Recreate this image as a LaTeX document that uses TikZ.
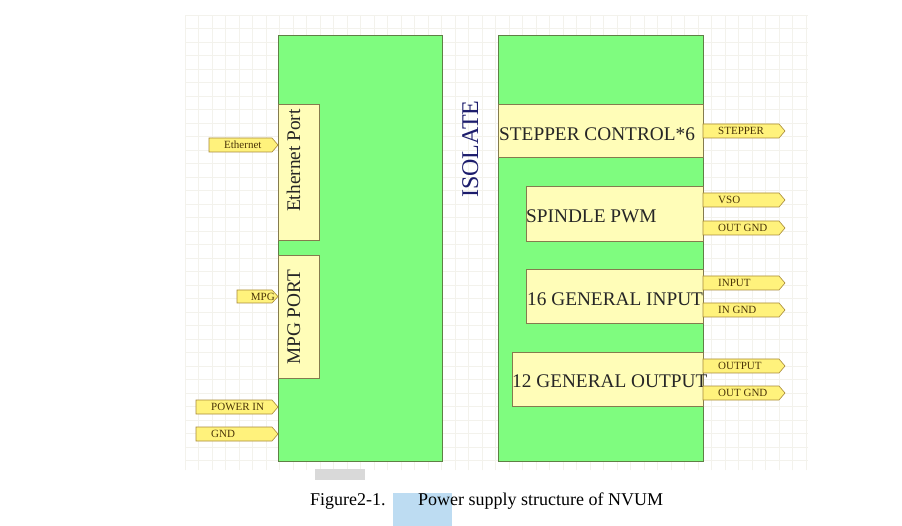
\documentclass[tikz,border=0pt]{standalone}
\usepackage{fontspec}
\setmainfont{Liberation Serif}
\definecolor{gfill}{HTML}{7FFC7F}
\definecolor{gline}{HTML}{5F7F45}
\definecolor{yfill}{HTML}{FFFDB8}
\definecolor{yline}{HTML}{857B4E}
\definecolor{tfill}{HTML}{FFF27C}
\definecolor{tline}{HTML}{A88A38}
\definecolor{ttext}{HTML}{4A3408}
\definecolor{navy}{HTML}{1C1C6C}
\definecolor{gridc}{HTML}{F3F2EC}
\definecolor{grayr}{HTML}{D9D9D9}
\definecolor{bluer}{HTML}{BDDCF2}
\tikzset{
  greenblk/.style={draw=gline, fill=gfill, line width=0.8pt},
  yellowblk/.style={draw=yline, fill=yfill, line width=0.8pt},
  tagshape/.style={draw=tline, fill=tfill, line width=0.6pt},
  tagtext/.style={inner sep=0pt, text=ttext, font=\fontsize{11}{11}\selectfont},
  bigtext/.style={inner sep=0pt, text=black!85, font=\fontsize{19.3}{19.3}\selectfont},
}
\newcommand\tagbox[5]{%
  \draw[tagshape] (#1,#3-7) -- (#2-6,#3-7) -- (#2,#3) -- (#2-6,#3+7) -- (#1,#3+7) -- cycle;
  \node[tagtext, anchor=base west] (#5) at (#1+15,#3+3.7) {#4};
}
\begin{document}
\begin{tikzpicture}[x=1pt,y=-1pt]
\useasboundingbox[fill=white] (0,0) rectangle (902,526);
% background grid
\draw[gridc, line width=0.5pt, step=13.5pt, shift={(185pt,-15pt)}] (0,0) grid (623,455);
% left block
\draw[greenblk] (278,35) rectangle (442,461);
\draw[yellowblk] (278,104) rectangle (319,240);
\node[bigtext, rotate=90, anchor=base west] (eport) at (300,212) {Ethernet Port};
\draw[yellowblk] (278,255) rectangle (319,378);
\node[bigtext, rotate=90, anchor=base west] (mport) at (300,365) {MPG PORT};
% isolate
\node[inner sep=0pt, text=navy, font=\fontsize{24}{24}\selectfont, rotate=90, anchor=base west] (iso) at (478,198) {ISOLATE};
% right block
\draw[greenblk] (498,35) rectangle (703,461);
\draw[yellowblk] (498,104) rectangle (703,157);
\node[bigtext, anchor=base west] (step6) at (499,141) {STEPPER CONTROL*6};
\draw[yellowblk] (526,186) rectangle (703,241);
\node[bigtext, anchor=base west] (pwm) at (526,223) {SPINDLE PWM};
\draw[yellowblk] (526,269) rectangle (703,323);
\node[bigtext, anchor=base west] (gin) at (527,306) {16 GENERAL INPUT};
\draw[yellowblk] (512,352) rectangle (703,406);
\node[bigtext, anchor=base west] (gout) at (512,388) {12 GENERAL OUTPUT};
% left tags
\tagbox{209}{278}{145}{Ethernet}{teth}
\draw[tagshape] (237,290) -- (272,290) -- (278,296.5) -- (272,303) -- (237,303) -- cycle;
\node[tagtext, anchor=base east] (tmpg) at (275,300.2) {MPG};
\tagbox{196}{278}{407}{POWER IN}{tpow}
\tagbox{196}{278}{434}{GND}{tgnd}
% right tags
\tagbox{703}{785}{131}{STEPPER}{tstep}
\tagbox{703}{785}{200}{VSO}{tvso}
\tagbox{703}{785}{228}{OUT GND}{tog1}
\tagbox{703}{785}{283}{INPUT}{tin}
\tagbox{703}{785}{310}{IN GND}{tig}
\tagbox{703}{785}{366}{OUTPUT}{tout}
\tagbox{703}{785}{393}{OUT GND}{tog2}
% caption area
\fill[grayr] (315,469) rectangle (365,480);
\fill[bluer] (393,493) rectangle (452,526);
\node[inner sep=0pt, anchor=base west, font=\fontsize{18}{18}\selectfont] (cap1) at (310,505) {Figure2-1.};
\node[inner sep=0pt, anchor=base west, font=\fontsize{18}{18}\selectfont] (cap2) at (418,505) {Power supply structure of NVUM};
\end{tikzpicture}
\end{document}
